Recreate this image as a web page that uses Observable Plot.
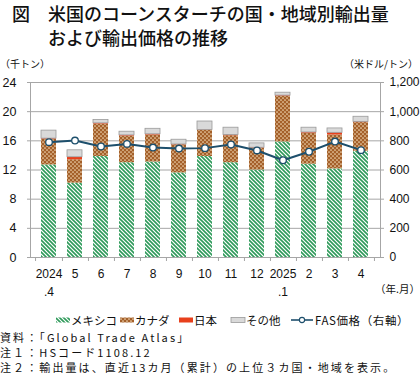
<!DOCTYPE html>
<html><head><meta charset="utf-8">
<script src="https://cdn.jsdelivr.net/npm/d3@7"></script>
<script src="https://cdn.jsdelivr.net/npm/@observablehq/plot@0.6"></script>
<style>
body{margin:0;background:#fff;}
#wrap{position:relative;width:420px;height:375px;overflow:hidden;font-family:"Noto Sans CJK JP","Noto Sans",sans-serif;color:#111;}
.abs{position:absolute;white-space:nowrap;}
.title{font-size:18px;line-height:24px;font-weight:500;}
.unit{font-size:10px;}
.leg{font-size:11.5px;top:312px;line-height:16px;}
.notes{font-size:11px;left:0;top:329.5px;letter-spacing:2.1px;line-height:15px;}
</style></head>
<body><div id="wrap">
<div class="abs title" style="left:12px;top:1px;">図</div>
<div class="abs title" style="left:48px;top:1px;">米国のコーンスターチの国・地域別輸出量<br>および輸出価格の推移</div>
<div class="abs unit" style="left:0px;top:56px;">（千トン）</div>
<div class="abs unit" style="right:2px;top:56px;">（米ドル/トン）</div>
<div id="chart" class="abs" style="left:0;top:55px;"></div>
<div class="abs" style="left:375px;top:281px;font-size:10.5px;">（年.月）</div>
<div id="legend"></div>
<div class="abs notes">資料：「Global Trade Atlas」<br>注１：HSコード1108.12<br>注２：輸出量は、直近13カ月（累計）の上位３カ国・地域を表示。</div>
</div>
<script>
// ---- data ----
const months = ["2024\n.4","5","6","7","8","9","10","11","12","2025\n.1","2","3","4"];
const seriesNames = ["メキシコ","カナダ","日本","その他"];
const mexico = [12.7,10.2,13.85,13.0,13.1,11.6,13.85,13.0,12.0,15.85,12.8,12.15,14.55];
const canada = [3.5,3.2,4.45,3.65,3.7,3.85,3.6,3.7,2.95,6.25,4.25,4.65,3.95];
const japan  = [0.1,0.35,0.1,0.1,0.1,0.05,0.05,0.1,0.1,0.1,0.1,0.3,0.1];
const other  = [1.1,0.95,0.45,0.5,0.75,0.65,1.15,1.0,0.6,0.4,0.65,0.6,0.7];
const fasPrice = [791,802,761,779,754,747,750,775,734,667,725,795,736];
const yTicks = [0,4,8,12,16,20,24];

const seriesValues = [mexico, canada, japan, other];
const long = [];
months.forEach((m,i)=>seriesNames.forEach((s,k)=>long.push({month:m, series:s, value:seriesValues[k][i]})));
const priceData = months.map((m,i)=>({month:m, price:fasPrice[i]}));

const lineColor = "#1d4f6c";
const gray = "#a6a6a6";

const plot = Plot.plot({
  width: 420, height: 250,
  marginTop: 27, marginBottom: 48, marginLeft: 30, marginRight: 40,
  style: {fontFamily: "'Liberation Sans', Arial, sans-serif", fontSize: "12px", color: "#111", background: "transparent"},
  x: {type: "band", domain: months, paddingInner: 0.42, paddingOuter: 0.21, label: null},
  y: {domain: [0, 24], label: null},
  color: {type: "ordinal", domain: seriesNames, range: ["url(#pMex)","url(#pCan)","#e8401c","#d9d9d9"]},
  opacity: {domain: [0,1], range: [0,1]},
  marks: [
    Plot.gridY(yTicks, {stroke: gray, strokeOpacity: 1}),
    Plot.frame({stroke: gray}),
    Plot.axisY({ticks: yTicks, tickSize: 3, tickPadding: 11, label: null, stroke: gray, fontSize: 12.5}),
    Plot.axisY({anchor: "right", ticks: yTicks, tickSize: 3, tickPadding: 6, label: null, stroke: gray,
      tickFormat: d => d3.format(",")(d * 50)}),
    Plot.axisX({tickSize: 0, tickPadding: 8, lineHeight: 1.5, label: null, fontSize: 12}),
    Plot.ruleX(months, {x: d => d, dx: 13.46, y1: 0, y2: -0.55, stroke: gray}),
    Plot.ruleX(months.slice(0,1), {x: d => d, dx: -13.46, y1: 0, y2: -0.55, stroke: gray}),
    Plot.barY(long, Plot.stackY({x: "month", y: "value", z: "series", fill: "series", order: seriesNames})),
    Plot.barY(long, Plot.stackY({x: "month", y: "value", z: "series", order: seriesNames, fill: "none",
      stroke: "#9a9a9a", strokeWidth: 0.8, strokeOpacity: d => d.series === "その他" ? 1 : 0})),
    Plot.line(priceData, {x: "month", y: d => d.price / 50, stroke: lineColor, strokeWidth: 2}),
    Plot.dot(priceData, {x: "month", y: d => d.price / 50, r: 3.3, fill: "white", stroke: lineColor, strokeWidth: 1.3})
  ]
});

d3.select(plot).insert("defs", ":first-child").html(`
  <pattern id="pMex" width="4" height="4" patternUnits="userSpaceOnUse">
    <rect width="4" height="4" fill="#ffffff"/>
    <path d="M-1,-1L5,5M3,-1L5,1M-1,3L1,5" stroke="#2e9a5a" stroke-width="1.6"/>
  </pattern>
  <pattern id="pCan" width="4" height="4" patternUnits="userSpaceOnUse">
    <rect width="4" height="4" fill="#a4602a"/>
    <circle cx="1" cy="1" r="0.85" fill="#f1d7b3"/>
    <circle cx="3" cy="3" r="0.85" fill="#f1d7b3"/>
  </pattern>
`);
document.getElementById("chart").appendChild(plot);

// ---- legend ----
const legend = d3.select("#legend");
const legItems = [
  {name: "メキシコ", x: 56, fill: "url(#pMex)"},
  {name: "カナダ", x: 120, fill: "url(#pCan)"},
  {name: "日本", x: 179, fill: "#e8401c"},
  {name: "その他", x: 231, fill: "#d9d9d9", stroke: "#9a9a9a"}
];
const lsvg = legend.append("svg").attr("class","abs").style("left","0px").style("top","310px")
  .attr("width", 420).attr("height", 20);
legItems.forEach(it => {
  lsvg.append("rect").attr("x", it.x).attr("y", 7.5).attr("width", 14).attr("height", 5)
    .attr("fill", it.fill).attr("stroke", it.stroke || "none").attr("stroke-width", 0.8);
  legend.append("div").attr("class","abs leg").style("left", (it.x + 15) + "px").text(it.name);
});
lsvg.append("line").attr("x1",291).attr("x2",313).attr("y1",10).attr("y2",10).attr("stroke",lineColor).attr("stroke-width",1.6);
lsvg.append("circle").attr("cx",302).attr("cy",10).attr("r",2.6).attr("fill","white").attr("stroke",lineColor).attr("stroke-width",1.1);
legend.append("div").attr("class","abs leg").style("left","315px").style("letter-spacing","0.6px").text("FAS価格（右軸）");
</script>
</body></html>
